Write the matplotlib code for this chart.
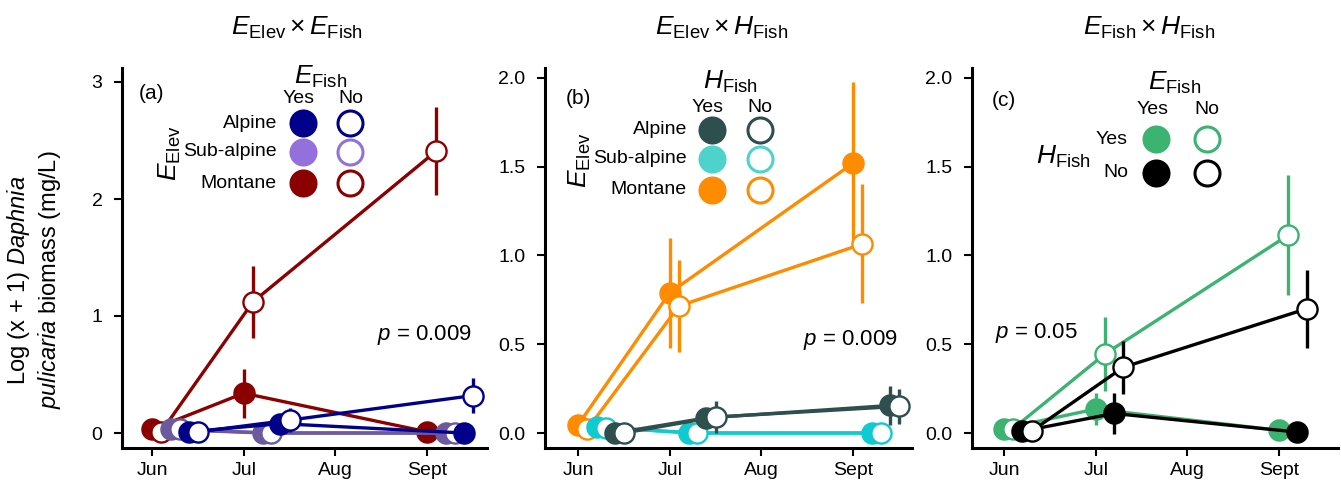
import numpy as np
import matplotlib.pyplot as plt
from matplotlib.ticker import FormatStrFormatter

plt.rcParams['font.family'] = ['Liberation Sans', 'DejaVu Sans']
plt.rcParams['mathtext.fontset'] = 'custom'
plt.rcParams['mathtext.rm'] = 'Liberation Sans'
plt.rcParams['mathtext.it'] = 'Liberation Sans:italic'

# sampling months (index from June) and tick labels
month_labels = ['Jun', 'Jul', 'Aug', 'Sept']
sample_month = [0, 1, 3]

# (a) E_Elev x E_Fish  -- Jun, Jul, Sept means and SE
a_montane_yes = [0.03, 0.34, 0.01]
a_montane_yes_se = [0, 0.21, 0]
a_montane_no = [0.01, 1.12, 2.41]
a_montane_no_se = [0, 0.31, 0.38]
a_subalp_yes = [0.03, 0.0, 0.0]
a_subalp_yes_se = [0, 0, 0]
a_subalp_no = [0.03, 0.0, 0.0]
a_subalp_no_se = [0, 0, 0]
a_alpine_yes = [0.01, 0.08, 0.0]
a_alpine_yes_se = [0, 0.03, 0]
a_alpine_no = [0.01, 0.11, 0.32]
a_alpine_no_se = [0, 0.10, 0.15]

# (b) E_Elev x H_Fish
b_montane_yes = [0.045, 0.79, 1.52]
b_montane_yes_se = [0, 0.31, 0.46]
b_montane_no = [0.02, 0.715, 1.065]
b_montane_no_se = [0, 0.26, 0.335]
b_subalp_yes = [0.035, 0.0, 0.0]
b_subalp_yes_se = [0, 0, 0]
b_subalp_no = [0.03, 0.0, 0.0]
b_subalp_no_se = [0, 0, 0]
b_alpine_yes = [0.0, 0.085, 0.155]
b_alpine_yes_se = [0, 0.02, 0.11]
b_alpine_no = [0.0, 0.09, 0.15]
b_alpine_no_se = [0, 0.09, 0.10]

# (c) E_Fish x H_Fish
c_hyes_eyes = [0.025, 0.135, 0.015]
c_hyes_eyes_se = [0, 0.09, 0]
c_hyes_eno = [0.025, 0.445, 1.115]
c_hyes_eno_se = [0, 0.21, 0.34]
c_hno_eyes = [0.01, 0.11, 0.005]
c_hno_eyes_se = [0, 0.115, 0]
c_hno_eno = [0.01, 0.37, 0.70]
c_hno_eno_se = [0, 0.15, 0.22]

W, H = 1341, 491
fig = plt.figure(figsize=(W / 100, H / 100), dpi=100)


def fx(x):
    return x / W


def fy(y):
    return 1 - y / H


def make_axes(left, right, ylim, yticks, fmt):
    ax = fig.add_axes([fx(left), fy(448), (right - left) / W, (448 - 68) / H])
    for s in ['top', 'right']:
        ax.spines[s].set_visible(False)
    for s in ['left', 'bottom']:
        ax.spines[s].set_linewidth(2.2)
    ax.set_xticks(range(4))
    ax.set_xticklabels(month_labels)
    ax.set_yticks(yticks)
    if fmt:
        ax.yaxis.set_major_formatter(FormatStrFormatter(fmt))
    ax.tick_params(direction='out', length=6, width=1.5, labelsize=14)
    ax.tick_params(axis='y', pad=8)
    ax.tick_params(axis='x', pad=4)
    ax.set_ylim(ylim)
    return ax


def draw_series(ax, y, se, color, filled, off, z, ms=14.5):
    x = np.array(sample_month) + off
    y = np.array(y)
    se = np.array(se)
    ax.plot(x, y, color=color, lw=2.4, zorder=z)
    m = se > 0
    ax.vlines(x[m], y[m] - se[m], y[m] + se[m], color=color, lw=2.4, zorder=z)
    ax.plot(x, y, 'o', ls='none', ms=ms, mfc=color if filled else 'white',
            mec=color, mew=1.7, zorder=z + 0.5)


def legend_marker(ax, x, y, color, filled):
    ax.plot([fx(x)], [fy(y)], 'o', transform=fig.transFigure, clip_on=False,
            ms=18, mfc=color if filled else 'white', mec=color, mew=2.2, zorder=20)


def ftext(x, y, s, **kw):
    fig.text(fx(x), fy(y), s, **kw)


# ---------------- panel a ----------------
ax1 = make_axes(122, 487, (-15 / 117, 365 / 117), [0, 1, 2, 3], None)
ax1.set_xlim(-30 / 91.7, 335 / 91.7)
navy, purple, purple_dk, dred = '#00008B', '#9370DB', '#6B5B9E', '#8B0000'
draw_series(ax1, a_montane_yes, a_montane_yes_se, dred, True, 0.0, 3)
draw_series(ax1, a_montane_no, a_montane_no_se, dred, False, 0.1, 4)
draw_series(ax1, a_subalp_yes, a_subalp_yes_se, purple_dk, True, 0.21, 5)
draw_series(ax1, a_subalp_no, a_subalp_no_se, purple_dk, False, 0.3, 6)
draw_series(ax1, a_alpine_yes, a_alpine_yes_se, navy, True, 0.4, 7)
draw_series(ax1, a_alpine_no, a_alpine_no_se, navy, False, 0.5, 8)

ftext(151, 94, '(a)', fontsize=15, ha='center', va='center')
ftext(321, 77, r'$E_{\mathrm{Fish}}$', fontsize=19, ha='center', va='center')
ftext(299, 98, 'Yes', fontsize=14, ha='center', va='center')
ftext(351, 98, 'No', fontsize=14, ha='center', va='center')
ftext(170, 153, r'$E_{\mathrm{Elev}}$', fontsize=19, ha='center', va='center', rotation=90)
for lab, yy, col in zip(['Alpine', 'Sub-alpine', 'Montane'], [123, 152, 183], [navy, purple, dred]):
    ftext(277, yy, lab, fontsize=14, ha='right', va='center')
    legend_marker(ax1, 303, yy, col, True)
    legend_marker(ax1, 350, yy, col, False)
ftext(472, 335, r'$p$ = 0.009', fontsize=16, ha='right', va='center')

# ---------------- panel b ----------------
ax2 = make_axes(545, 912, (-15 / 177.5, 365 / 177.5), [0, 0.5, 1.0, 1.5, 2.0], '%.1f')
ax2.set_xlim(-33 / 91.7, 334 / 91.7)
slate, turq, turq_dk, orange = '#2F4F4F', '#4ED3CC', '#10CAD2', '#FF8C00'
draw_series(ax2, b_montane_yes, b_montane_yes_se, orange, True, 0.0, 3)
draw_series(ax2, b_montane_no, b_montane_no_se, orange, False, 0.1, 4)
draw_series(ax2, b_subalp_yes, b_subalp_yes_se, turq_dk, True, 0.21, 5)
draw_series(ax2, b_subalp_no, b_subalp_no_se, turq_dk, False, 0.3, 6)
draw_series(ax2, b_alpine_yes, b_alpine_yes_se, slate, True, 0.4, 7)
draw_series(ax2, b_alpine_no, b_alpine_no_se, slate, False, 0.5, 8)

ftext(578, 99, '(b)', fontsize=15, ha='center', va='center')
ftext(730, 82, r'$H_{\mathrm{Fish}}$', fontsize=19, ha='center', va='center')
ftext(708, 107, 'Yes', fontsize=14, ha='center', va='center')
ftext(760, 107, 'No', fontsize=14, ha='center', va='center')
ftext(580, 160, r'$E_{\mathrm{Elev}}$', fontsize=19, ha='center', va='center', rotation=90)
for lab, yy, col in zip(['Alpine', 'Sub-alpine', 'Montane'], [130, 159, 190], [slate, turq, orange]):
    ftext(687, yy, lab, fontsize=14, ha='right', va='center')
    legend_marker(ax2, 712, yy, col, True)
    legend_marker(ax2, 760, yy, col, False)
ftext(898, 340, r'$p$ = 0.009', fontsize=16, ha='right', va='center')

# ---------------- panel c ----------------
ax3 = make_axes(972, 1338, (-15 / 177.5, 365 / 177.5), [0, 0.5, 1.0, 1.5, 2.0], '%.1f')
ax3.set_xlim(-32 / 91.7, 334 / 91.7)
green, black = '#3CB371', 'black'
draw_series(ax3, c_hyes_eyes, c_hyes_eyes_se, green, True, 0.0, 3)
draw_series(ax3, c_hyes_eno, c_hyes_eno_se, green, False, 0.1, 4)
draw_series(ax3, c_hno_eyes, c_hno_eyes_se, black, True, 0.2, 5)
draw_series(ax3, c_hno_eno, c_hno_eno_se, black, False, 0.3, 6)

ftext(1004, 100, '(c)', fontsize=15, ha='center', va='center')
ftext(1175, 83, r'$E_{\mathrm{Fish}}$', fontsize=19, ha='center', va='center')
ftext(1153, 109, 'Yes', fontsize=14, ha='center', va='center')
ftext(1207, 109, 'No', fontsize=14, ha='center', va='center')
ftext(1063, 157, r'$H_{\mathrm{Fish}}$', fontsize=19, ha='center', va='center')
for lab, yy, col in zip(['Yes', 'No'], [139, 173], [green, black]):
    ftext(1128, yy, lab, fontsize=14, ha='right', va='center')
    legend_marker(ax3, 1156, yy, col, True)
    legend_marker(ax3, 1207, yy, col, False)
ftext(995, 333, r'$p$ = 0.05', fontsize=16, ha='left', va='center')

# titles
ftext(297, 28, r'$E_{\mathrm{Elev}} \times E_{\mathrm{Fish}}$', fontsize=19, ha='center', va='center')
ftext(722, 28, r'$E_{\mathrm{Elev}} \times H_{\mathrm{Fish}}$', fontsize=19, ha='center', va='center')
ftext(1149, 28, r'$E_{\mathrm{Fish}} \times H_{\mathrm{Fish}}$', fontsize=19, ha='center', va='center')

# y label
ftext(34, 280, 'Log (x + 1) $\\mathit{Daphnia}$\n$\\mathit{pulicaria}$ biomass (mg/L)',
      fontsize=17, ha='center', va='center', rotation=90, linespacing=1.2)

fig.savefig('out.png', dpi=100)
